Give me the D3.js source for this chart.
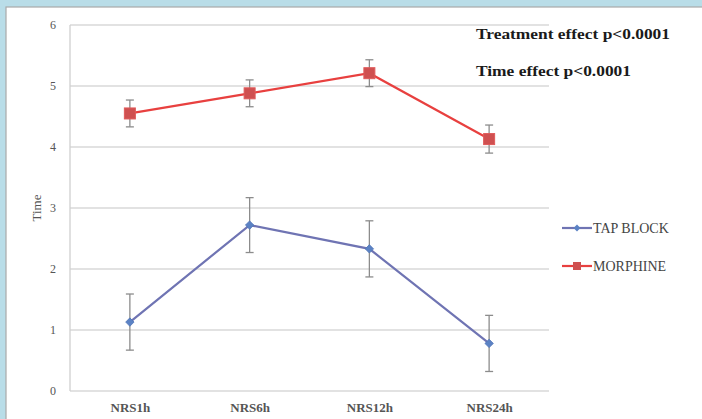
<!DOCTYPE html>
<html><head><meta charset="utf-8">
<script src="https://cdn.jsdelivr.net/npm/d3@7"></script>
<style>html,body{margin:0;padding:0;background:#b9dde8;}svg{display:block;}</style>
</head><body>
<svg id="c" width="702" height="419"></svg>
<script>
const categories = ["NRS1h","NRS6h","NRS12h","NRS24h"];
const tapBlock = [1.13, 2.72, 2.33, 0.78];
const tapErr = [0.46, 0.45, 0.46, 0.46];
const morphine = [4.55, 4.88, 5.21, 4.13];
const morphErr = [0.22, 0.22, 0.22, 0.23];
const yTicks = [0,1,2,3,4,5,6];
const annotations = ["Treatment effect p<0.0001","Time effect p<0.0001"];

const svg = d3.select("#c");
svg.append("rect").attr("x",0).attr("y",0).attr("width",702).attr("height",419).attr("fill","#b9dde8");
svg.append("rect").attr("x",6).attr("y",7).attr("width",700).attr("height",420).attr("fill","#fff").attr("stroke","#a9a9a9").attr("stroke-width",1.2);

const L=70,R=549,T=25,B=391;
const x = d3.scalePoint().domain(categories).range([L,R]).padding(0.5);
const y = d3.scaleLinear().domain([0,6]).range([B,T]);
const serif = "'Liberation Serif','Times New Roman',serif";

svg.append("g").selectAll("line").data(yTicks).join("line")
  .attr("x1",L).attr("x2",R).attr("y1",d=>y(d)).attr("y2",d=>y(d))
  .attr("stroke","#d9d9d9").attr("stroke-width",1.3);
svg.append("line").attr("x1",L).attr("x2",L).attr("y1",T).attr("y2",B).attr("stroke","#d0d0d0").attr("stroke-width",1.3);

const ya = svg.append("g").attr("transform",`translate(${L},0)`)
  .call(d3.axisLeft(y).tickValues(yTicks).tickFormat(d3.format("d")).tickSize(0).tickPadding(14));
ya.select(".domain").remove();
ya.selectAll("text").attr("font-family",serif).attr("font-size",12).attr("fill","#555");

const xa = svg.append("g").attr("transform",`translate(0,${B})`).call(d3.axisBottom(x).tickSize(0).tickPadding(12));
xa.select(".domain").remove();
xa.selectAll("text").attr("font-family",serif).attr("font-size",13).attr("font-weight","bold").attr("fill","#555");

svg.append("text").attr("transform",`translate(41,${y(3)}) rotate(-90)`).attr("text-anchor","middle")
  .attr("font-family",serif).attr("font-size",13).attr("fill","#555").text("Time");

function series(vals, errs, color, marker){
  const g = svg.append("g");
  g.selectAll("line.err").data(vals).join("line").attr("class","err")
    .attr("x1",(d,i)=>x(categories[i])).attr("x2",(d,i)=>x(categories[i]))
    .attr("y1",(d,i)=>y(d+errs[i])).attr("y2",(d,i)=>y(d-errs[i]))
    .attr("stroke","#8c8c8c").attr("stroke-width",1.3);
  [1,-1].forEach(s=>{
    g.selectAll("line.cap"+s).data(vals).join("line")
      .attr("x1",(d,i)=>x(categories[i])-4).attr("x2",(d,i)=>x(categories[i])+4)
      .attr("y1",(d,i)=>y(d+s*errs[i])).attr("y2",(d,i)=>y(d+s*errs[i]))
      .attr("stroke","#8c8c8c").attr("stroke-width",1.3);
  });
  g.append("path").datum(vals)
    .attr("d",d3.line().x((d,i)=>x(categories[i])).y(d=>y(d)))
    .attr("fill","none").attr("stroke",color).attr("stroke-width",2.2);
  vals.forEach((d,i)=>marker(g, x(categories[i]), y(d)));
}
const diamond = (g,cx,cy)=>g.append("path").attr("d",d3.symbol(d3.symbolDiamond2,45)()).attr("transform",`translate(${cx},${cy})`).attr("fill","#5b82c4").attr("stroke","#4f75b8").attr("stroke-width",0.8);
const square = (g,cx,cy)=>g.append("rect").attr("x",cx-5.5).attr("y",cy-5.5).attr("width",11).attr("height",11).attr("fill","#cf5050").attr("stroke","#e05a5a").attr("stroke-width",1);

series(tapBlock, tapErr, "#6f74b3", diamond);
series(morphine, morphErr, "#e8403f", square);

svg.selectAll("text.ann").data(annotations).join("text").attr("class","ann")
  .attr("x",476).attr("y",(d,i)=>39+i*37)
  .attr("font-family",serif).attr("font-size",15).attr("font-weight","bold").attr("fill","#1a1a1a")
  .attr("textLength",(d,i)=>i===0?194:155).attr("lengthAdjust","spacingAndGlyphs").text(d=>d);

const legend = [{name:"TAP BLOCK",color:"#6f74b3",yy:228},{name:"MORPHINE",color:"#e8403f",yy:266}];
legend.forEach(l=>{
  svg.append("line").attr("x1",562).attr("x2",592).attr("y1",l.yy).attr("y2",l.yy).attr("stroke",l.color).attr("stroke-width",2.2);
  if(l.name==="MORPHINE"){
    svg.append("rect").attr("x",573).attr("y",l.yy-4).attr("width",8).attr("height",8).attr("fill","#cf5050");
  } else {
    svg.append("path").attr("d",d3.symbol(d3.symbolDiamond2,30)()).attr("transform",`translate(577,${l.yy})`).attr("fill","#5b82c4");
  }
  svg.append("text").attr("x",593).attr("y",l.yy+5).attr("font-family",serif).attr("font-size",14).attr("fill","#444").text(l.name);
});
</script>
</body></html>
